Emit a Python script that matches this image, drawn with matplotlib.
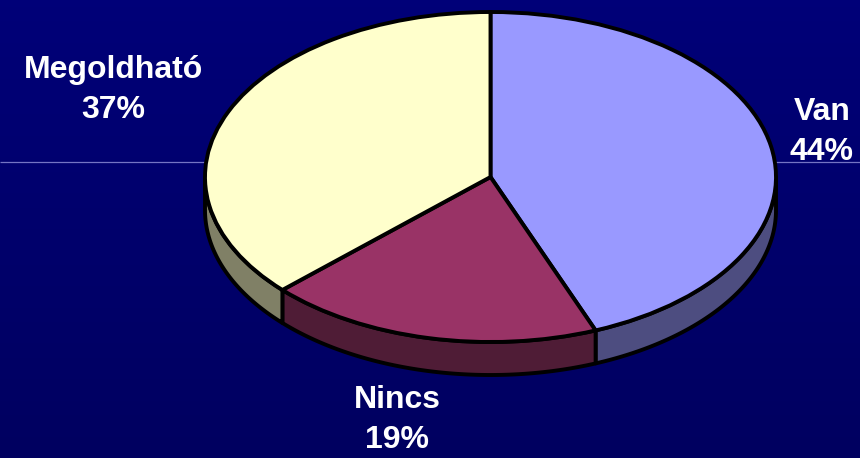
import numpy as np
import matplotlib
matplotlib.use("Agg")
import matplotlib.pyplot as plt

categories = ["Van", "Nincs", "Megoldható"]
values = [44, 19, 37]
top_colors = ["#9999FF", "#993366", "#FFFFCC"]
side_colors = ["#4D4D80", "#4F1C36", "#808066"]

W, H = 860, 458
CX, CY, RX, RY, DEPTH = 490.5, 177.0, 285.5, 165.0, 33.0
EDGE = 2.8

plt.rcParams["font.family"] = ["Liberation Sans", "DejaVu Sans"]
fig = plt.figure(figsize=(W / 100, H / 100), dpi=100)

# background gradient
bg = fig.add_axes([0, 0, 1, 1], zorder=0)
bg.set_axis_off()
grad = np.zeros((64, 1, 3))
grad[:, 0, 2] = np.linspace(0x78, 0x60, 64) / 255
bg.imshow(grad, aspect="auto", extent=(0, W, H, 0))
bg.plot([0, W], [161.5, 161.5], color="#7474C4", lw=0.9, solid_capstyle="butt")
bg.set_xlim(0, W)
bg.set_ylim(H, 0)

# pie axes: one data unit equals the radius of the ellipse along each direction
ax = fig.add_axes([0, 0, 1, 1], zorder=1)
ax.patch.set_alpha(0)
d = DEPTH / RY

frac = np.cumsum([0] + values) / sum(values) * 2 * np.pi
for i in range(len(values)):
    a0 = max(frac[i], np.pi / 2)
    a1 = min(frac[i + 1], 3 * np.pi / 2)
    if a1 <= a0:
        continue
    t = np.linspace(a0, a1, 120)
    x, y = np.sin(t), np.cos(t)
    ax.fill(np.r_[x, x[::-1]], np.r_[y, y[::-1] - d],
            facecolor=side_colors[i], edgecolor="black", lw=EDGE, joinstyle="round")

ax.pie(values, colors=top_colors, startangle=90, counterclock=False,
       radius=1.0, center=(0, 0), frame=False,
       wedgeprops=dict(edgecolor="black", linewidth=EDGE, joinstyle="round"))
ax.set_aspect("auto")
ax.set_xlim(-CX / RX, (W - CX) / RX)
ax.set_ylim((CY - H) / RY, CY / RY)
ax.set_axis_off()

# labels
label_pos = [(822, 132), (397, 420), (113, 90)]
for cat, val, (px, py) in zip(categories, values, label_pos):
    fig.text(px / W, 1 - py / H, f"{cat}\n{val}%", color="white", fontsize=23,
             fontweight="bold", ha="center", va="center", linespacing=1.42,
             multialignment="center", zorder=5)

fig.savefig("out.png", dpi=100, facecolor="#000070")
